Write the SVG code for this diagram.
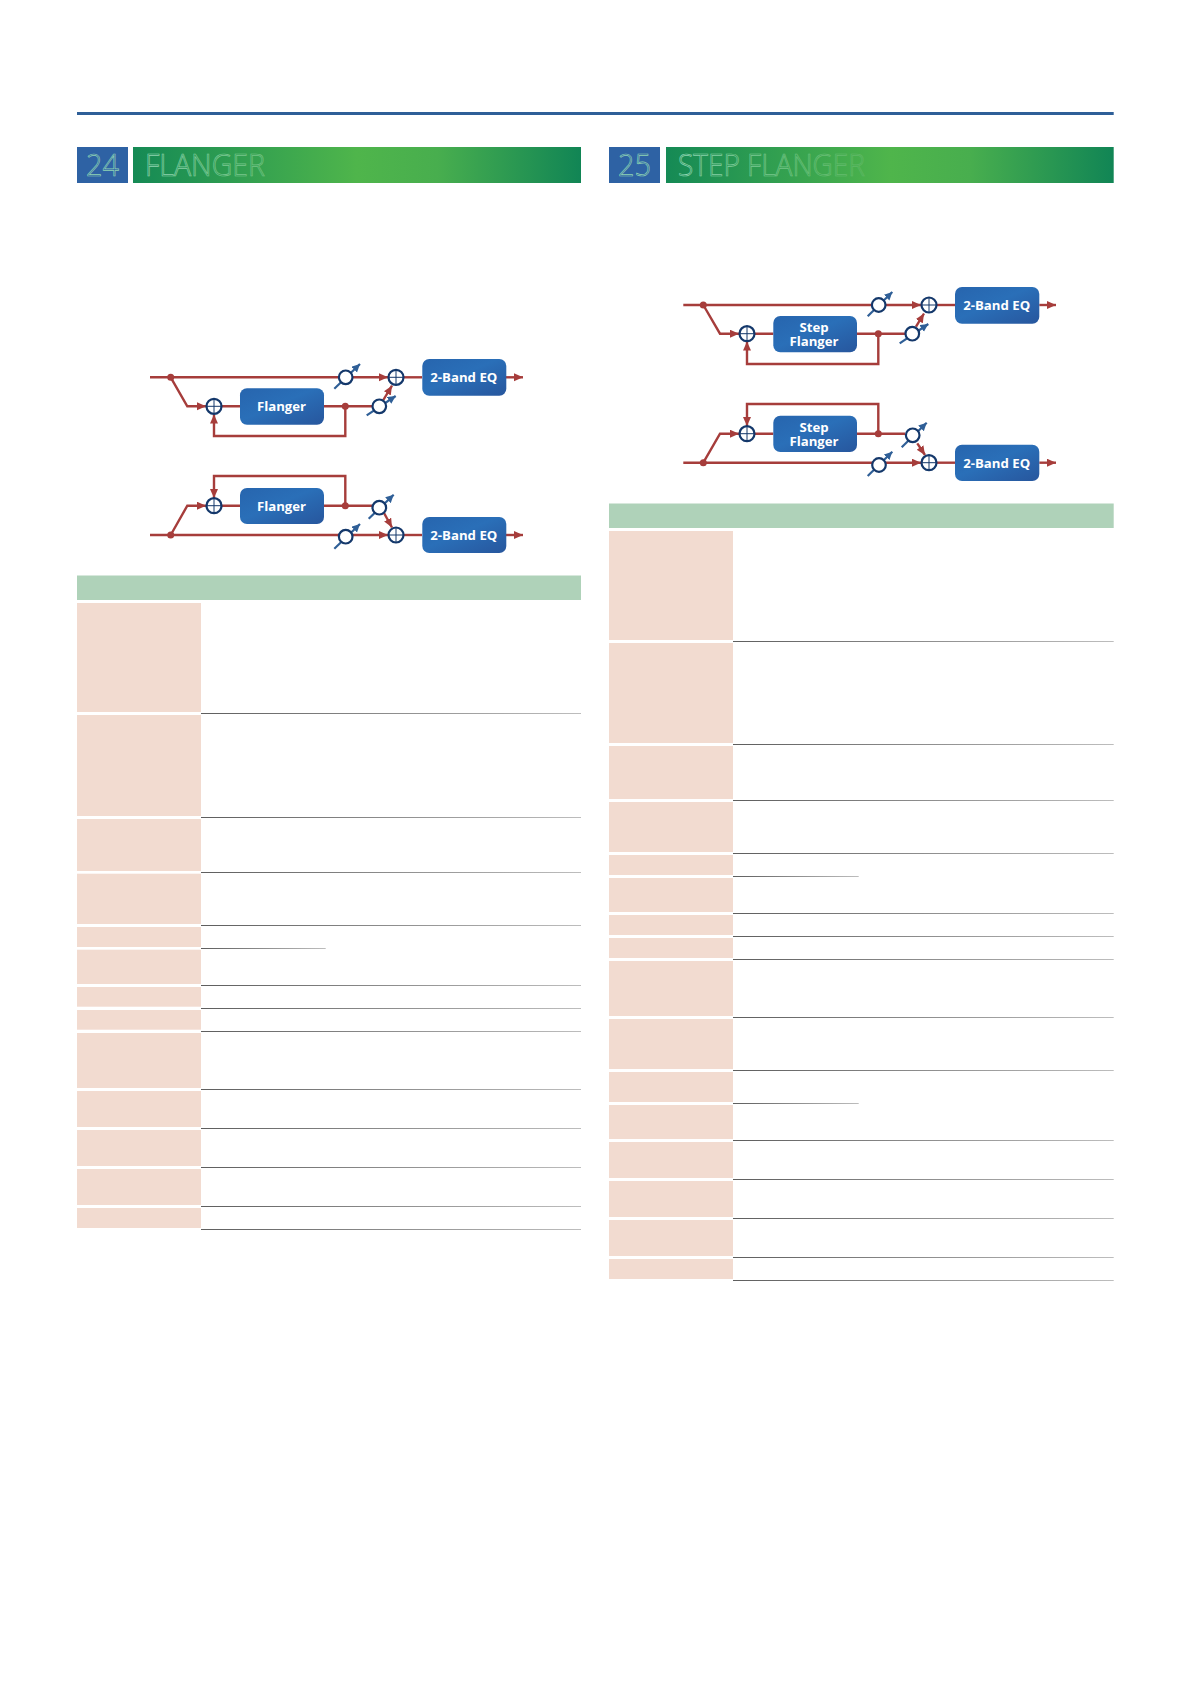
<svg xmlns="http://www.w3.org/2000/svg" width="1191" height="1684" viewBox="0 0 1191 1684">
<style>
.w{fill:none;stroke:#a63d3b;stroke-width:2.4}
.a{marker-end:url(#ra)}
.g{fill:none;stroke:#2f5f97;stroke-width:2.2;marker-end:url(#ba)}
.box{stroke:none}
.lb{font-family:"Open Sans","Noto Sans",sans-serif;font-weight:700;font-size:13.2px;fill:#fff;text-anchor:middle}
.num,.ttl{font-family:"Open Sans","Noto Sans",sans-serif;font-weight:300;font-size:32px;stroke-width:.7}
.num{fill:none;stroke:#8fd4b4;text-anchor:middle}
.pk{fill:#f2dbd0}
.hd{fill:#afd2b9}
.bl{fill:#2e62a4}
.dot{fill:#a63d3b}
</style>
<defs>
<marker id="ra" markerUnits="userSpaceOnUse" markerWidth="10" markerHeight="9" refX="9" refY="4" orient="auto"><path d="M0 0L9 4L0 8Z" fill="#a63d3b"/></marker>
<marker id="ba" markerUnits="userSpaceOnUse" markerWidth="9" markerHeight="9" refX="8" refY="4" orient="auto"><path d="M0 0L8 4L0 8Z" fill="#2f5f97"/></marker>
<linearGradient id="box" x1="0" y1="0" x2="1" y2="1"><stop offset="0" stop-color="#2765ae"/><stop offset=".45" stop-color="#2a6fb8"/><stop offset="1" stop-color="#27569d"/></linearGradient>
<linearGradient id="gl" gradientUnits="userSpaceOnUse" x1="133" y1="0" x2="581" y2="0"><stop offset="0" stop-color="#158a55"/><stop offset=".5" stop-color="#4fb54b"/><stop offset=".68" stop-color="#48ae4e"/><stop offset="1" stop-color="#118555"/></linearGradient>
<linearGradient id="gr" gradientUnits="userSpaceOnUse" x1="666" y1="0" x2="1113.7" y2="0"><stop offset="0" stop-color="#158a55"/><stop offset=".5" stop-color="#4fb54b"/><stop offset=".68" stop-color="#48ae4e"/><stop offset="1" stop-color="#118555"/></linearGradient>
<linearGradient id="tl" gradientUnits="userSpaceOnUse" x1="145" y1="0" x2="265" y2="0"><stop offset="0" stop-color="#92d6b4"/><stop offset="1" stop-color="#70c282"/></linearGradient>
<linearGradient id="tr" gradientUnits="userSpaceOnUse" x1="678" y1="0" x2="866" y2="0"><stop offset="0" stop-color="#92d6b4"/><stop offset="1" stop-color="#5cb762"/></linearGradient>
<linearGradient id="rule" x1="0" y1="0" x2="1" y2="0"><stop offset="0" stop-color="#5e5e5e"/><stop offset="1" stop-color="#bdbdbd"/></linearGradient>
<g id="sum"><circle r="7.5" fill="#fff" stroke="#14386b" stroke-width="2.2"/><path d="M-7 0H7M0-7V7" stroke="#14386b" stroke-width="1"/></g>
<g id="gain"><circle r="6.8" fill="#fff" stroke="#14386b" stroke-width="2.2"/></g>
</defs>
<rect width="1191" height="1684" fill="#fff"/>
<g id="page-rule"><rect x="77" y="112" width="1036.7" height="3" fill="#2e5f98"/></g>

<g id="heading-24">
<rect class="bl" x="77" y="147" width="51" height="36"/>
<rect x="133" y="147" width="448" height="36" fill="url(#gl)"/>
<text class="num" x="102.500" y="175.500" textLength="33" lengthAdjust="spacingAndGlyphs">24</text>
<text class="ttl" x="145" y="175.500" fill="none" stroke="url(#tl)" textLength="120" lengthAdjust="spacingAndGlyphs">FLANGER</text>
</g>
<g id="heading-25">
<rect class="bl" x="609" y="147" width="51" height="36"/>
<rect x="666" y="147" width="447.700" height="36" fill="url(#gr)"/>
<text class="num" x="634.500" y="175.500" textLength="33" lengthAdjust="spacingAndGlyphs">25</text>
<text class="ttl" x="678" y="175.500" fill="none" stroke="url(#tr)" textLength="187" lengthAdjust="spacingAndGlyphs">STEP FLANGER</text>
</g>

<g id="connectors">
<path class="w a" d="M150 377.300H388"/>
<path class="w" d="M404 377.300H422"/>
<path class="w a" d="M506 377.300H523"/>
<path class="w a" d="M170.700 377.300L187.300 406.300H206"/>
<path class="w" d="M222 406.300H240M324 406.300H372"/>
<path class="w a" d="M345.300 406.300V436H214V414.500"/>
<path class="w a" d="M383.300 400L392 385.700"/>
<path class="w a" d="M345.300 505.700V476H214V498"/>
<path class="w a" d="M170.700 535L187.300 505.700H206"/>
<path class="w" d="M222 505.700H240M324 505.700H372"/>
<path class="w a" d="M384 513L392 527.500"/>
<path class="w a" d="M150 535H388"/>
<path class="w" d="M404 535H422"/>
<path class="w a" d="M506 535H523"/>

<path class="w a" d="M683.300 305H921"/>
<path class="w" d="M937 305H955"/>
<path class="w a" d="M1039.300 305H1056"/>
<path class="w a" d="M703.300 305L720 333.700H739"/>
<path class="w" d="M755 333.700H773.300M857 333.700H905"/>
<path class="w a" d="M878.300 333.700V364H747V341.500"/>
<path class="w a" d="M916 326.700L924 313.500"/>
<path class="w a" d="M878.300 433.700V404H747V426"/>
<path class="w a" d="M703.300 462.700L720 433.700H739"/>
<path class="w" d="M755 433.700H773.300M857 433.700H905"/>
<path class="w a" d="M917.300 443.300L925 455"/>
<path class="w a" d="M683.300 462.700H921"/>
<path class="w" d="M937 462.700H955"/>
<path class="w a" d="M1039.300 462.700H1056"/>

<g class="dots">
<circle class="dot" cx="170.700" cy="377.300" r="3.500"/><circle class="dot" cx="345.300" cy="406.300" r="3.500"/>
<circle class="dot" cx="345.300" cy="505.700" r="3.500"/><circle class="dot" cx="170.700" cy="535" r="3.500"/>
<circle class="dot" cx="703.300" cy="305" r="3.500"/><circle class="dot" cx="878.300" cy="333.700" r="3.500"/>
<circle class="dot" cx="878.300" cy="433.700" r="3.500"/><circle class="dot" cx="703.300" cy="462.700" r="3.500"/>
</g>
</g>

<g id="sum-a1"><use href="#sum" x="214" y="406.300"/></g>
<g id="sum-a2"><use href="#sum" x="396" y="377.300"/></g>
<g id="gain-a1"><path class="g" d="M334.300 388.700L360 364"/><use href="#gain" x="345.700" y="377.300"/></g>
<g id="gain-a2"><path class="g" d="M366.700 415.300L395.700 396"/><use href="#gain" x="379.300" y="406.300"/></g>
<g id="fx-a"><rect class="box" x="240" y="388.300" width="84" height="36.400" rx="7" fill="url(#box)"/><text class="lb" x="281.500" y="411.300">Flanger</text></g>
<g id="eq-a"><rect class="box" x="422.300" y="359" width="84" height="36.700" rx="7" fill="url(#box)"/><text class="lb" x="463.800" y="382.300">2-Band EQ</text></g>

<g id="sum-b1"><use href="#sum" x="214" y="505.700"/></g>
<g id="sum-b2"><use href="#sum" x="396" y="535"/></g>
<g id="gain-b1"><path class="g" d="M368.700 518.700L393.700 494.700"/><use href="#gain" x="379.300" y="507.700"/></g>
<g id="gain-b2"><path class="g" d="M334.300 548.700L360 524"/><use href="#gain" x="345.700" y="536.700"/></g>
<g id="fx-b"><rect class="box" x="240" y="488" width="84" height="36" rx="7" fill="url(#box)"/><text class="lb" x="281.500" y="510.700">Flanger</text></g>
<g id="eq-b"><rect class="box" x="422.300" y="517" width="84" height="36" rx="7" fill="url(#box)"/><text class="lb" x="463.800" y="540">2-Band EQ</text></g>

<g id="sum-c1"><use href="#sum" x="747" y="333.700"/></g>
<g id="sum-c2"><use href="#sum" x="929" y="305"/></g>
<g id="gain-c1"><path class="g" d="M867.700 316.300L892.300 292"/><use href="#gain" x="878.700" y="305"/></g>
<g id="gain-c2"><path class="g" d="M899.700 343.300L928.300 324"/><use href="#gain" x="912.300" y="333.700"/></g>
<g id="fx-c"><rect class="box" x="773.300" y="316" width="83.700" height="36.300" rx="7" fill="url(#box)"/><text class="lb"><tspan x="814" y="332">Step</tspan><tspan x="814" y="346">Flanger</tspan></text></g>
<g id="eq-c"><rect class="box" x="955" y="287" width="84.300" height="36.700" rx="7" fill="url(#box)"/><text class="lb" x="996.700" y="310">2-Band EQ</text></g>

<g id="sum-d1"><use href="#sum" x="747" y="433.700"/></g>
<g id="sum-d2"><use href="#sum" x="929" y="462.700"/></g>
<g id="gain-d1"><path class="g" d="M901.700 447.300L926.700 422.700"/><use href="#gain" x="912.700" y="435.300"/></g>
<g id="gain-d2"><path class="g" d="M867.700 476L892.300 451.700"/><use href="#gain" x="879" y="465"/></g>
<g id="fx-d"><rect class="box" x="773.300" y="415.700" width="83.700" height="36.300" rx="7" fill="url(#box)"/><text class="lb"><tspan x="814" y="432">Step</tspan><tspan x="814" y="446">Flanger</tspan></text></g>
<g id="eq-d"><rect class="box" x="955" y="444.700" width="84.300" height="36.300" rx="7" fill="url(#box)"/><text class="lb" x="996.700" y="467.500">2-Band EQ</text></g>

<g id="table-24">
<rect class="hd" x="77" y="575.500" width="504" height="24.500"/>
<rect class="pk" x="77" y="603" width="124" height="109"/>
<rect class="pk" x="77" y="715" width="124" height="101"/>
<rect class="pk" x="77" y="819" width="124" height="52"/>
<rect class="pk" x="77" y="873.700" width="124" height="50.300"/>
<rect class="pk" x="77" y="927" width="124" height="20"/>
<rect class="pk" x="77" y="949.700" width="124" height="34.300"/>
<rect class="pk" x="77" y="987" width="124" height="19.700"/>
<rect class="pk" x="77" y="1010" width="124" height="19.700"/>
<rect class="pk" x="77" y="1033" width="124" height="55"/>
<rect class="pk" x="77" y="1091" width="124" height="36"/>
<rect class="pk" x="77" y="1130" width="124" height="36"/>
<rect class="pk" x="77" y="1169" width="124" height="36"/>
<rect class="pk" x="77" y="1208" width="124" height="20"/>
<g fill="url(#rule)">
<rect x="201" y="713" width="380" height="1"/>
<rect x="201" y="817" width="380" height="1"/>
<rect x="201" y="872" width="380" height="1"/>
<rect x="201" y="925" width="380" height="1"/>
<rect x="201" y="948" width="124.700" height="1"/>
<rect x="201" y="985" width="380" height="1"/>
<rect x="201" y="1008" width="380" height="1"/>
<rect x="201" y="1031" width="380" height="1"/>
<rect x="201" y="1089" width="380" height="1"/>
<rect x="201" y="1128" width="380" height="1"/>
<rect x="201" y="1167" width="380" height="1"/>
<rect x="201" y="1206" width="380" height="1"/>
<rect x="201" y="1229" width="380" height="1"/>
</g>
</g>

<g id="table-25">
<rect class="hd" x="609" y="503.500" width="504.700" height="24.500"/>
<rect class="pk" x="609" y="531" width="124" height="109"/>
<rect class="pk" x="609" y="643" width="124" height="100"/>
<rect class="pk" x="609" y="746" width="124" height="53"/>
<rect class="pk" x="609" y="802" width="124" height="50"/>
<rect class="pk" x="609" y="855" width="124" height="20"/>
<rect class="pk" x="609" y="878" width="124" height="34"/>
<rect class="pk" x="609" y="915" width="124" height="20"/>
<rect class="pk" x="609" y="938" width="124" height="20"/>
<rect class="pk" x="609" y="961" width="124" height="55"/>
<rect class="pk" x="609" y="1019" width="124" height="50"/>
<rect class="pk" x="609" y="1072" width="124" height="30"/>
<rect class="pk" x="609" y="1105" width="124" height="34"/>
<rect class="pk" x="609" y="1142" width="124" height="36"/>
<rect class="pk" x="609" y="1181" width="124" height="36"/>
<rect class="pk" x="609" y="1220" width="124" height="36"/>
<rect class="pk" x="609" y="1259" width="124" height="20"/>
<g fill="url(#rule)">
<rect x="733" y="641" width="380.700" height="1"/>
<rect x="733" y="744" width="380.700" height="1"/>
<rect x="733" y="800" width="380.700" height="1"/>
<rect x="733" y="853" width="380.700" height="1"/>
<rect x="733" y="876" width="125.700" height="1"/>
<rect x="733" y="913" width="380.700" height="1"/>
<rect x="733" y="936" width="380.700" height="1"/>
<rect x="733" y="959" width="380.700" height="1"/>
<rect x="733" y="1017" width="380.700" height="1"/>
<rect x="733" y="1070" width="380.700" height="1"/>
<rect x="733" y="1103" width="125.700" height="1"/>
<rect x="733" y="1140" width="380.700" height="1"/>
<rect x="733" y="1179" width="380.700" height="1"/>
<rect x="733" y="1218" width="380.700" height="1"/>
<rect x="733" y="1257" width="380.700" height="1"/>
<rect x="733" y="1280" width="380.700" height="1"/>
</g>
</g>
</svg>
